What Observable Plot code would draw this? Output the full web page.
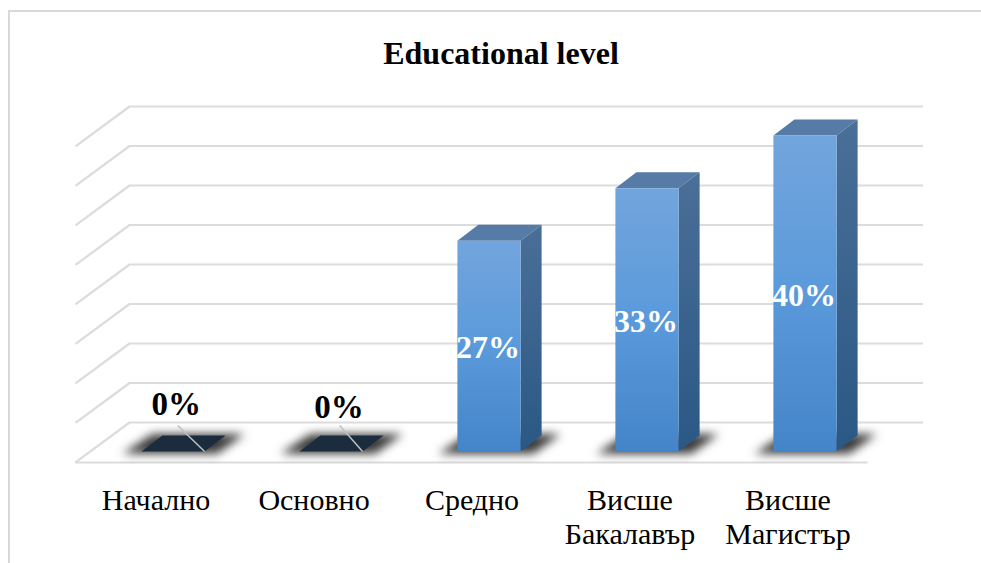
<!DOCTYPE html>
<html lang="bg">
<head>
<meta charset="utf-8">
<script src="https://cdn.jsdelivr.net/npm/d3@7"></script>
<script src="https://cdn.jsdelivr.net/npm/@observablehq/plot@0.6"></script>
<style>
  html, body { margin: 0; padding: 0; background: #fff; overflow: hidden; }
  #wrap { position: relative; width: 981px; height: 563px; overflow: hidden; }
  #frame { position: absolute; left: 8px; top: 10px; right: -10px; bottom: -10px; border: 2px solid #d9d9d9; }
  #chart { position: absolute; left: 0; top: 0; }
  #chart svg { background: transparent !important; display: block; }
</style>
</head>
<body>
<div id="wrap"><div id="frame"></div><div id="chart"></div></div>
<script>
const chartTitle = "Educational level";
const categories = ["Начално", "Основно", "Средно", "Висше\nБакалавър", "Висше\nМагистър"];
const percents = [0, 0, 26.67, 33.33, 40];
const gridLevels = [0, 5, 10, 15, 20, 25, 30, 35, 40];

// Look of the 3-D box, in scale units (category steps / percentage points).
const halfBar = 0.2, depthX = 0.133, depthY = 2.03;
const wallBase = 3.67, floorFront = -1.39;
const wallLeft = -0.275, wallRight = 4.75, frontLeft = -0.617, frontRight = 4.40;

const bars = percents.map((v, i) => ({i, v}));
const poly = (name, fn) => bars.flatMap((b) => fn(b).map(([x, y]) => ({id: `${name}${b.i}`, x, y})));

const shadow = poly("s", ({i}) => [
  [i - halfBar - 0.12, -0.3], [i - halfBar + 0.07, 2.2],
  [i + halfBar + depthX + 0.12, 2.2], [i + halfBar + 0.08, -0.3]
]);
const front = poly("f", ({i, v}) => [
  [i - halfBar, 0], [i - halfBar, v], [i + halfBar, v], [i + halfBar, 0]
]);
const side = poly("r", ({i, v}) => [
  [i + halfBar, 0], [i + halfBar, v], [i + halfBar + depthX, v + depthY], [i + halfBar + depthX, depthY]
]);
const top3d = poly("t", ({i, v}) => [
  [i - halfBar, v], [i - halfBar + depthX, v + depthY], [i + halfBar + depthX, v + depthY], [i + halfBar, v]
]);

const zeroNotes = [
  {i: 0, x: 0.03, y: 3.3, lx: 0.02, ly: 5.9},
  {i: 1, x: 1.055, y: 3.3, lx: 1.05, ly: 5.6}
];

const gradients = () => {
  const ns = "http://www.w3.org/2000/svg";
  const defs = document.createElementNS(ns, "defs");
  const make = (id, stops) => {
    const g = document.createElementNS(ns, "linearGradient");
    g.setAttribute("id", id);
    g.setAttribute("x1", 0); g.setAttribute("y1", 0); g.setAttribute("x2", 0); g.setAttribute("y2", 1);
    stops.forEach(([o, c]) => {
      const s = document.createElementNS(ns, "stop");
      s.setAttribute("offset", o); s.setAttribute("stop-color", c);
      g.appendChild(s);
    });
    defs.appendChild(g);
  };
  make("barFront", [[0, "#72a5dd"], [0.5, "#5a9adb"], [1, "#4484c8"]]);
  make("barSide", [[0, "#4a6f98"], [1, "#2a5884"]]);
  return defs;
};

const serif = "'Liberation Serif', 'Times New Roman', serif";

const chart = Plot.plot({
  width: 981,
  height: 563,
  marginTop: 0, marginLeft: 0, marginRight: 0, marginBottom: 83,
  style: {fontFamily: serif, background: "transparent", overflow: "visible"},
  x: {domain: [0, 4], range: [172.5, 804.5]},
  y: {domain: [0, 40], range: [451, 135], axis: null},
  marks: [
    gradients,
    // back wall
    Plot.ruleY(gridLevels, {y: (d) => d + wallBase, x1: wallLeft, x2: wallRight, stroke: "#dcdcdc", strokeWidth: 2.2}),
    // side wall
    Plot.link(gridLevels, {
      x1: frontLeft, y1: (d) => d + floorFront, x2: wallLeft, y2: (d) => d + wallBase,
      stroke: "#dcdcdc", strokeWidth: 2.2
    }),
    // floor front edge
    Plot.ruleY([floorFront], {x1: frontLeft, x2: frontRight, stroke: "#dcdcdc", strokeWidth: 2.2}),
    // shadows
    Plot.line(shadow, {x: "x", y: "y", z: "id", fill: "#3a3a3a", stroke: "none", imageFilter: "blur(5px)"}),
    // boxes
    Plot.line(top3d, {x: "x", y: "y", z: "id", fill: (d) => (d.id === "t0" || d.id === "t1") ? "#1b2c3e" : "#567ba6", stroke: "none"}),
    Plot.line(side, {x: "x", y: "y", z: "id", fill: "url(#barSide)", stroke: "none"}),
    Plot.line(front, {x: "x", y: "y", z: "id", fill: "url(#barFront)", stroke: "none"}),
    // leader lines of the two zero labels
    Plot.link(zeroNotes, {
      x1: "x", y1: "y", x2: (d) => d.i + halfBar, y2: 0,
      stroke: "#bfbfbf", strokeWidth: 1.5
    }),
    // value labels
    Plot.text(bars.filter((b) => b.v > 0), {
      x: (d) => d.i, y: (d) => d.v / 2,
      text: (d) => `${Math.round(d.v)}%`,
      fill: "white", fontSize: 32, fontWeight: "bold", dx: -1, dy: 2
    }),
    Plot.text(zeroNotes, {
      x: "lx", y: "ly", text: () => "0%",
      fill: "black", fontSize: 33, fontWeight: "bold"
    }),
    // title
    Plot.text([chartTitle], {
      x: [2.076], y: [50.3], text: (d) => d,
      fill: "black", fontSize: 32, fontWeight: "bold"
    }),
    // category labels
    Plot.axisX({
      ticks: [0, 1, 2, 3, 4],
      tickFormat: (i) => categories[i],
      tickSize: 0, tickPadding: 0, dx: -17, dy: 5,
      fontSize: 30, lineHeight: 1.14, fill: "black", label: null, lineAnchor: "top"
    })
  ]
});
document.getElementById("chart").appendChild(chart);
</script>
</body>
</html>
